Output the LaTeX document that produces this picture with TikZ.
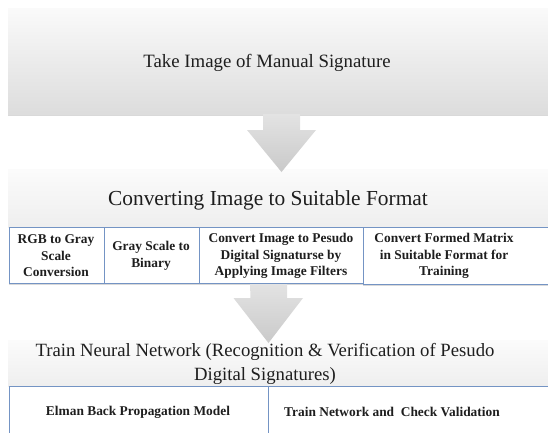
\documentclass[tikz,border=0pt]{standalone}
\usepackage{fontspec}
\newfontfamily\cf{Liberation Serif}
\usetikzlibrary{shadows}
\definecolor{bordblue}{HTML}{7494C4}
\definecolor{txt}{HTML}{1E1E1E}
\tikzset{
  graybox/.style={draw=none, anchor=north west, inner sep=0pt},
  subbox/.style={draw=bordblue, line width=0.9pt, fill=white, anchor=north west, inner sep=0pt},
  bigtext/.style={font=\cf\fontsize{18.8}{22}\selectfont, text=txt, inner sep=0pt, align=center},
  subtext/.style={font=\cf\bfseries\fontsize{13.4}{16.5}\selectfont, text=txt, inner sep=0pt, align=center},
  blockarrow/.style={top color=gray!22!white, bottom color=gray!42!white, draw=none},
  shad/.style={drop shadow={shadow xshift=0pt, shadow yshift=-2pt, opacity=0.3}},
}
\begin{document}
\begin{tikzpicture}[x=1pt,y=1pt]
\useasboundingbox (0,0) rectangle (548,-432);
% top box
\node[graybox, top color=gray!4!white, bottom color=gray!27!white, minimum width=545pt, minimum height=106pt, shad] (take) at (8,-8) {};
\node[bigtext] (taket) at (267,-63) {Take Image of Manual Signature};
% box 2
\node[graybox, top color=gray!3!white, bottom color=gray!13!white, minimum width=545pt, minimum height=58pt] (conv) at (8,-169) {};
\node[bigtext, font=\cf\fontsize{21.4}{24}\selectfont] (convt) at (268,-200) {Converting Image to Suitable Format};
\node[subbox, minimum width=95pt, minimum height=56pt, shad] (s1) at (9,-227) {};
\node[subbox, minimum width=95pt, minimum height=56pt, shad] (s2) at (104,-227) {};
\node[subbox, minimum width=164pt, minimum height=56pt, shad] (s3) at (199,-227) {};
\node[subbox, minimum width=192pt, minimum height=57pt, shad] (s4) at (363,-227) {};
\node[subtext] (s1t) at (56,-256) {RGB to Gray\\Scale\\Conversion};
\node[subtext] (s2t) at (151,-256) {Gray Scale to\\Binary};
\node[subtext] (s3t) at (281,-256) {Convert Image to Pesudo\\Digital Signaturse by\\Applying Image Filters};
\node[subtext] (s4t) at (444,-256) {Convert Formed Matrix\\in Suitable Format for\\Training};
% box 3
\node[graybox, top color=gray!3!white, bottom color=gray!13!white, minimum width=545pt, minimum height=46pt] (train) at (8,-340) {};
\node[bigtext, font=\cf\fontsize{18.7}{24}\selectfont] (traint) at (265,-364)
  {Train Neural Network (Recognition \& Verification of Pesudo\\Digital Signatures)};
\node[subbox, minimum width=259pt, minimum height=60pt] (e1) at (9,-386) {};
\node[subbox, minimum width=285pt, minimum height=60pt] (e2) at (268,-386) {};
\node[subtext] (e1t) at (138,-412) {Elman Back Propagation Model};
\node[subtext] (e2t) at (392,-412) {Train Network and\ \ Check Validation};
% arrows
\coordinate (a1) at (281.5,-114);
\shade[blockarrow] (a1) ++(-18.5,0) -- ++(37,0) -- ++(0,-16) -- ++(16,0) -- (a1 |- 0,-172) -- ++(-34.5,42) -- ++(16,0) -- cycle;
\coordinate (a2) at (268.5,-284);
\shade[blockarrow] (a2) ++(-18.5,0) -- ++(37,0) -- ++(0,-14) -- ++(16,0) -- (a2 |- 0,-343) -- ++(-35,45) -- ++(17,0) -- cycle;
\end{tikzpicture}
\end{document}
